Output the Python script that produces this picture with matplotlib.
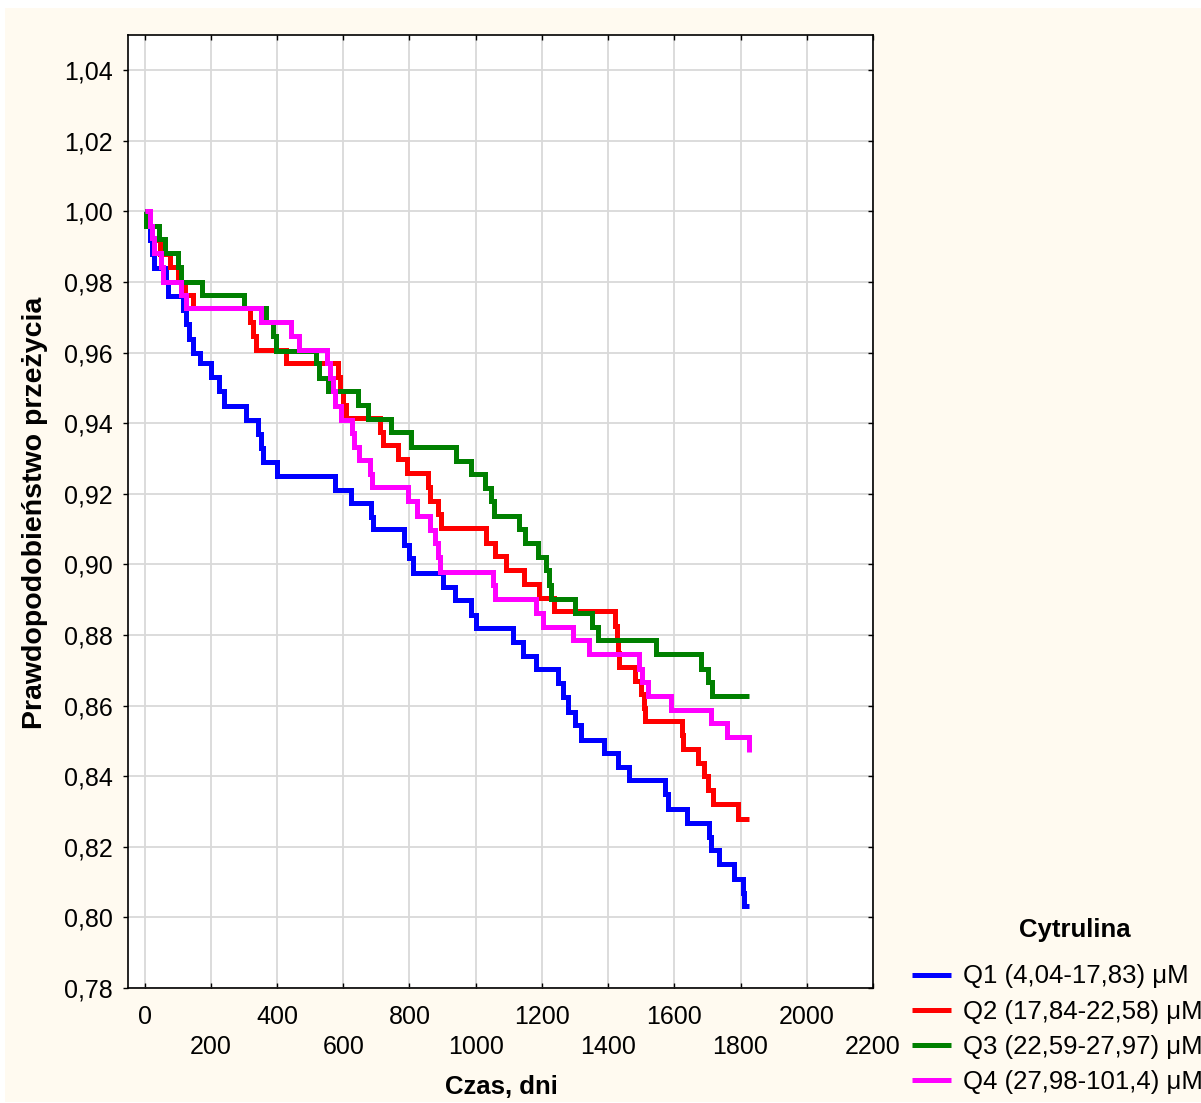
import matplotlib
matplotlib.use("Agg")
import matplotlib.pyplot as plt
from matplotlib.patches import Rectangle
from matplotlib.ticker import FuncFormatter, FixedLocator

plt.rcParams['font.family'] = ['Liberation Sans', 'DejaVu Sans']

# Kaplan-Meier curves: day of each drop, survival after it
q1_days = [0, 5, 15, 22, 28, 65, 72, 115, 125, 135, 145, 166, 201, 226, 241, 307, 342, 352,
           358, 400, 574, 624, 684, 690, 785, 798, 812, 901, 939, 986, 1001, 1112, 1142, 1182,
           1248, 1265, 1278, 1301, 1318, 1389, 1429, 1464, 1573, 1580, 1638, 1705, 1710, 1735,
           1781, 1806, 1811, 1824]
q1_surv = [1.0, .996, .992, .988, .984, .980, .976, .972, .968, .964, .960, .957, .953, .949,
           .945, .941, .937, .933, .929, .925, .921, .9175, .9135, .910, .9055, .9017, .8976,
           .8937, .8899, .8858, .8819, .8781, .874, .8703, .8663, .8625, .8582, .8545, .8504,
           .8466, .8426, .8389, .8349, .8308, .8268, .8228, .819, .8151, .811, .8069, .8031,
           .8031]

q2_days = [0, 12, 45, 48, 78, 100, 121, 146, 317, 327, 337, 427, 584, 590, 600, 608, 710, 720,
           765, 792, 855, 862, 886, 896, 1030, 1057, 1092, 1147, 1191, 1236, 1420, 1426, 1430,
           1434, 1481, 1499, 1509, 1512, 1622, 1626, 1670, 1690, 1703, 1717, 1791, 1824]
q2_surv = [1.0, .996, .992, .988, .9844, .980, .9764, .9726, .9686, .9646, .9608, .957, .9532,
           .949, .9452, .9414, .9376, .9339, .930, .926, .922, .918, .9143, .9102, .9062, .9024,
           .8984, .8944, .8905, .8867, .8825, .8786, .8748, .871, .867, .8632, .8594, .8556,
           .8516, .8477, .8438, .840, .836, .832, .828, .828]

q3_days = [0, 5, 45, 62, 102, 110, 173, 300, 367, 387, 397, 519, 528, 554, 644, 675, 745, 805,
           942, 986, 1027, 1045, 1055, 1130, 1150, 1187, 1213, 1221, 1228, 1300, 1350, 1368,
           1546, 1681, 1703, 1713, 1824]
q3_surv = [1.0, .996, .9922, .9882, .9844, .980, .9764, .9726, .9688, .9646, .9606, .957, .9528,
           .949, .9452, .9412, .9374, .9334, .9294, .9255, .9217, .918, .9138, .910, .906, .902,
           .8984, .8942, .8902, .8863, .8824, .8786, .8745, .8705, .8667, .8628, .8628]

q4_days = [0, 15, 22, 30, 50, 55, 110, 126, 352, 442, 467, 551, 561, 570, 576, 594, 627, 634,
           649, 682, 688, 795, 822, 861, 876, 886, 891, 1052, 1057, 1182, 1203, 1294, 1343,
           1494, 1502, 1521, 1590, 1711, 1760, 1824]
q4_surv = [1.0, .996, .9924, .9882, .9844, .980, .9764, .9726, .9688, .9648, .9608, .957, .9528,
           .949, .945, .941, .9372, .9334, .9296, .9256, .9218, .9179, .9138, .9098, .906, .902,
           .898, .8942, .8901, .8863, .8823, .8785, .8745, .8705, .8667, .8628, .8589, .855,
           .851, .8469]

labels = ['Q1 (4,04-17,83) μM', 'Q2 (17,84-22,58) μM', 'Q3 (22,59-27,97) μM',
          'Q4 (27,98-101,4) μM']
colors = ['#0000ff', '#ff0000', '#008000', '#ff00ff']

x_major = [0, 400, 800, 1200, 1600, 2000]
x_minor = [200, 600, 1000, 1400, 1800, 2200]
y_ticks = [0.78, 0.80, 0.82, 0.84, 0.86, 0.88, 0.90, 0.92, 0.94, 0.96, 0.98, 1.00, 1.02, 1.04]

W, H = 1201, 1103
fig = plt.figure(figsize=(W / 100, H / 100), dpi=100, facecolor='white')
fig.patches.append(Rectangle((5 / W, 1 / H), 1, 1 - 9 / H, transform=fig.transFigure,
                             facecolor='#fffaf0', edgecolor='none', zorder=-10))
ax = fig.add_axes([128 / W, 1 - 988 / H, 745 / W, 953 / H])
ax.set_facecolor('white')

lines = []
for d, s, c in zip([q1_days, q2_days, q3_days, q4_days],
                   [q1_surv, q2_surv, q3_surv, q4_surv], colors):
    ln, = ax.step(d, s, where='post', color=c, lw=3.6,
                  solid_joinstyle='miter', solid_capstyle='butt')
    lines.append(ln)

ax.set_xlim(-50, 2200)
ax.set_ylim(0.78, 1.05)

ax.xaxis.set_major_locator(FixedLocator(x_major))
ax.xaxis.set_minor_locator(FixedLocator(x_minor))
ax.xaxis.set_minor_formatter(FuncFormatter(lambda v, p: f"{v:.0f}"))
ax.xaxis.set_major_formatter(FuncFormatter(lambda v, p: f"{v:.0f}"))
ax.yaxis.set_major_locator(FixedLocator(y_ticks))
ax.yaxis.set_major_formatter(FuncFormatter(lambda v, p: f"{v:.2f}".replace('.', ',')))

ax.tick_params(axis='x', which='both', direction='in', top=True, length=3.6, width=1,
               labelsize=18)
ax.tick_params(axis='x', which='major', pad=12.5)
ax.tick_params(axis='x', which='minor', pad=33.5)
ax.tick_params(axis='y', which='major', direction='out', length=3.6, width=1, labelsize=18,
               pad=7.2)
ax.tick_params(axis='y', which='major', right=True)
for t in ax.yaxis.get_major_ticks():
    t.tick2line.set_marker(matplotlib.lines.TICKLEFT)

ax.grid(True, which='both', color='#d9d9d9', lw=1.3)
ax.set_axisbelow(True)
for sp in ax.spines.values():
    sp.set_linewidth(1.2)
    sp.set_color('black')

fig.text(35 / W, 1 - 513 / H, 'Prawdopodobieństwo przeżycia', rotation=90,
         ha='center', va='center', fontsize=20.5, fontweight='bold')
fig.text(501 / W, 1 - 1087 / H, 'Czas, dni', ha='center', va='center',
         fontsize=18.5, fontweight='bold')
fig.text(1075 / W, 1 - 930 / H, 'Cytrulina', ha='center', va='center',
         fontsize=18.5, fontweight='bold')

fig.legend(lines, labels, loc='upper left', bbox_to_anchor=(912 / W, 1 - 964.5 / H),
           frameon=False, borderpad=0, borderaxespad=0, handlelength=1.5,
           handletextpad=0.47, labelspacing=0.44, fontsize=18.5)

fig.savefig('out.png', dpi=100)
